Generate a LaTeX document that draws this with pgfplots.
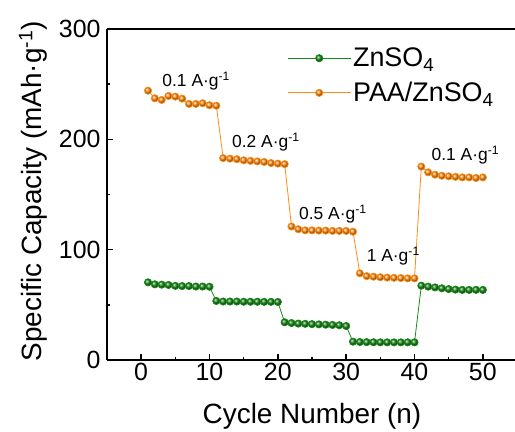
\documentclass[border=0pt]{standalone}
\usepackage{pgfplots}
\pgfplotsset{compat=1.18}
\usepackage{fontspec}
\setmainfont{Liberation Sans}
\definecolor{zgreen}{RGB}{25,135,25}
\definecolor{zorange}{RGB}{255,140,20}
\pgfplotstableread{
x y
1 70.4
2 68.6
3 68.3
4 68
5 67.2
6 67
7 67
8 66.6
9 66.6
10 66.4
11 53.5
12 53
13 53
14 53
15 52.8
16 52.8
17 52.8
18 52.7
19 52.7
20 52.6
21 34.2
22 33.5
23 33
24 32.8
25 32.5
26 32.3
27 32
28 31.8
29 31.5
30 30.8
31 16.6
32 16.3
33 16.2
34 16.1
35 16
36 16
37 16
38 16
39 16
40 16
41 67.4
42 66.5
43 65.8
44 65
45 64.3
46 63.8
47 63.5
48 63.5
49 63.6
50 63.5
}\green
\pgfplotstableread{
x y
1 244.1
2 237.2
3 235.7
4 239.3
5 238.7
6 236.9
7 232.1
8 232.1
9 232.7
10 230.9
11 230.5
12 183
13 182.5
14 182
15 181
16 180.5
17 180
18 179.5
19 178.5
20 178
21 177.5
22 121
23 118.5
24 117.5
25 117.5
26 117.3
27 117.3
28 117
29 117
30 117
31 116.3
32 78.6
33 76
34 75.5
35 75
36 74.7
37 74.5
38 74.3
39 74
40 74
41 175.3
42 170.1
43 168
44 167
45 166.5
46 166
47 165.5
48 165.5
49 165
50 165.5
}\orange
\begin{document}
\begin{tikzpicture}
\begin{axis}[
  width=410bp, height=331bp, scale only axis,
  xmin=-5, xmax=55, ymin=0, ymax=300,
  axis x line*=box, axis y line*=left,
  axis line style={line width=1.5bp, black},
  xtick={0,10,20,30,40,50}, ytick={0,100,200,300},
  minor x tick num=1, minor y tick num=1,
  xtick pos=bottom, ytick pos=left,
  tick align=inside,
  major tick length=6bp, minor tick length=3.5bp,
  every tick/.style={line width=1.5bp, black},
  /pgf/number format/assume math mode=true,
  tick label style={font=\fontsize{25}{30}\selectfont},
  yticklabel style={xshift=-3bp},
  xlabel={Cycle Number (n)},
  ylabel={Specific Capacity (mAh·g\textsuperscript{-1})},
  label style={font=\fontsize{28}{33}\selectfont},
  x label style={at={(axis description cs:0.5,0)}, anchor=base, yshift=-63bp},
  y label style={at={(axis description cs:-0.1805,0.51)}, anchor=center},
  legend style={draw=none, fill=none, at={(0.432,0.955)}, anchor=north west,
    font=\fontsize{27}{32}\selectfont, row sep=10bp},
  legend cell align=left,
  legend image code/.code={\draw[mark repeat=2, mark phase=2, #1] plot coordinates {(0bp,0bp) (31.5bp,0bp) (63bp,0bp)};},
  clip=false,
]
\addplot[color=zgreen, line width=0.8bp, mark=ball, mark size=3.6bp, mark options={ball color=zgreen}] table {\green};
\addlegendentry{ZnSO\textsubscript{4}}
\addplot[color=zorange, line width=0.8bp, mark=ball, mark size=3.6bp, mark options={ball color=zorange}] table {\orange};
\addlegendentry{PAA/ZnSO\textsubscript{4}}
\node[anchor=base west, font=\fontsize{17.5}{21}\selectfont] at (axis cs:2.6,247.5) {0.1 A·g\textsuperscript{-1}};
\node[anchor=base west, font=\fontsize{17.5}{21}\selectfont] at (axis cs:12.8,192.2) {0.2 A·g\textsuperscript{-1}};
\node[anchor=base west, font=\fontsize{17.5}{21}\selectfont] at (axis cs:22.6,127) {0.5 A·g\textsuperscript{-1}};
\node[anchor=base west, font=\fontsize{17.5}{21}\selectfont] at (axis cs:32.5,89) {1 A·g\textsuperscript{-1}};
\node[anchor=base west, font=\fontsize{17.5}{21}\selectfont] at (axis cs:42,181) {0.1 A·g\textsuperscript{-1}};
\end{axis}
\pgfresetboundingbox
\path[use as bounding box] (current axis.south west) ++(-107bp,-72bp) rectangle ++(515bp,432bp);
\end{tikzpicture}
\end{document}
